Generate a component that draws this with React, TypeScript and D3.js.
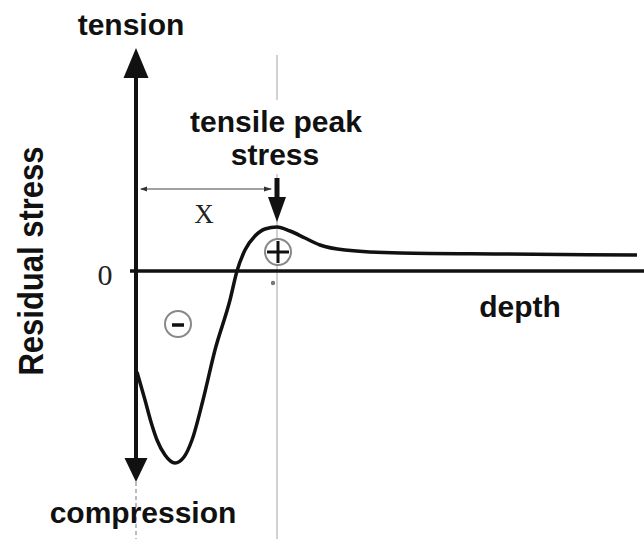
import React from "react";
import * as d3 from "d3";

// Schematic residual-stress profile (arbitrary units)
const depth = [0, 1.6, 2.8, 4, 5.6, 7.6, 9.4, 11, 13.2, 15.6, 18.6, 20, 21.6, 23.6, 25.6, 28, 30.6, 33.6, 36.6, 41.6, 52.6, 72.6, 100];
const stress = [-101, -129, -151, -169, -184, -192, -186, -169, -129, -79, -29, 0, 21, 35, 42, 44, 40, 33, 26, 21, 18, 17, 16];
const peakDepth = 28;
const axisLabels = { top: "tension", bottom: "compression", y: "Residual stress", x: "depth", zero: "0" };
const peakLabel = ["tensile peak", "stress"];
const distLabel = "X";

const W = 644;
const H = 539;

export default function App() {
  const x = d3.scaleLinear().domain([0, 100]).range([137, 637]);
  const y = d3.scaleLinear().domain([-220, 220]).range([491, 51]);
  const pts = depth.map((d, i) => [x(d), y(stress[i])] as [number, number]);
  const line = d3.line<[number, number]>().curve(d3.curveMonotoneX)(pts) || "";

  const ax = x(0) - 1; // vertical axis position
  const y0 = y(0);
  const px = x(peakDepth);
  const topTip = y(223);
  const botTip = y(-211);
  const bold = { fontFamily: "Liberation Sans, Arial, sans-serif", fontWeight: 700, fontSize: 30, fill: "#111" } as const;
  const serif = { fontFamily: "Liberation Serif, Times New Roman, serif", fontSize: 30, fill: "#222" } as const;

  return (
    <svg width={W} height={H} style={{ position: "absolute", left: 0, top: 0, background: "#fff" }}>
      <rect width={W} height={H} fill="#fff" />
      {/* faint guide lines */}
      <line x1={px} x2={px} y1={55} y2={H} stroke="#b8b8b8" strokeWidth={1.3} />
      <line x1={ax} x2={ax} y1={botTip} y2={H} stroke="#999" strokeWidth={1.3} strokeDasharray="4,3" />
      <circle cx={px - 4} cy={y0 + 12} r={2.2} fill="#777" />

      {/* label behind background */}
      <rect x={185} y={100} width={182} height={74} fill="#fff" />
      <text x={276} y={132} textAnchor="middle" {...bold}>{peakLabel[0]}</text>
      <text x={275} y={165} textAnchor="middle" {...bold}>{peakLabel[1]}</text>

      {/* peak arrow */}
      <line x1={px} x2={px} y1={178} y2={200} stroke="#111" strokeWidth={5} />
      <path d={`M${px - 9},${197} L${px + 9},${197} L${px},${222} Z`} fill="#111" />

      {/* dimension X */}
      <line x1={ax + 5} x2={px - 6} y1={189} y2={189} stroke="#444" strokeWidth={1.2} />
      <path d={`M${ax + 4},189 L${ax + 11},186.5 L${ax + 11},191.5 Z`} fill="#333" />
      <path d={`M${px - 5},189 L${px - 13},186.5 L${px - 13},191.5 Z`} fill="#333" />
      <text x={204} y={223} textAnchor="middle" {...serif} fontSize={27}>{distLabel}</text>

      {/* axes */}
      <line x1={ax} x2={ax} y1={topTip + 28} y2={botTip - 22} stroke="#111" strokeWidth={4} />
      <path d={`M${ax - 12.5},${topTip + 30} L${ax + 12.5},${topTip + 30} L${ax},${topTip} Z`} fill="#111" />
      <path d={`M${ax - 11.5},${botTip - 24} L${ax + 11.5},${botTip - 24} L${ax},${botTip} Z`} fill="#111" />
      <line x1={ax - 6} x2={W} y1={y0} y2={y0} stroke="#111" strokeWidth={3.5} />

      {/* curve */}
      <path d={line} fill="none" stroke="#111" strokeWidth={3.5} strokeLinejoin="round" />

      {/* sign circles */}
      <circle cx={px + 1} cy={252} r={13} fill="#fff" stroke="#888" strokeWidth={2} />
      <line x1={px + 1} x2={px + 1} y1={241} y2={263} stroke="#111" strokeWidth={3} />
      <line x1={px - 10} x2={px + 12} y1={252} y2={252} stroke="#111" strokeWidth={3} />
      <circle cx={178} cy={324} r={13} fill="#fff" stroke="#888" strokeWidth={2} />
      <line x1={172} x2={184} y1={325} y2={325} stroke="#111" strokeWidth={3.5} />

      {/* labels */}
      <text x={131} y={35} textAnchor="middle" {...bold}>{axisLabels.top}</text>
      <text x={143} y={523} textAnchor="middle" {...bold}>{axisLabels.bottom}</text>
      <text x={520} y={317} textAnchor="middle" {...bold}>{axisLabels.x}</text>
      <text x={105} y={285} textAnchor="middle" {...serif}>{axisLabels.zero}</text>
      <text transform={`translate(43,261) rotate(-90) scale(1,1.15)`} textAnchor="middle" {...bold} fontSize={31}>{axisLabels.y}</text>
    </svg>
  );
}
